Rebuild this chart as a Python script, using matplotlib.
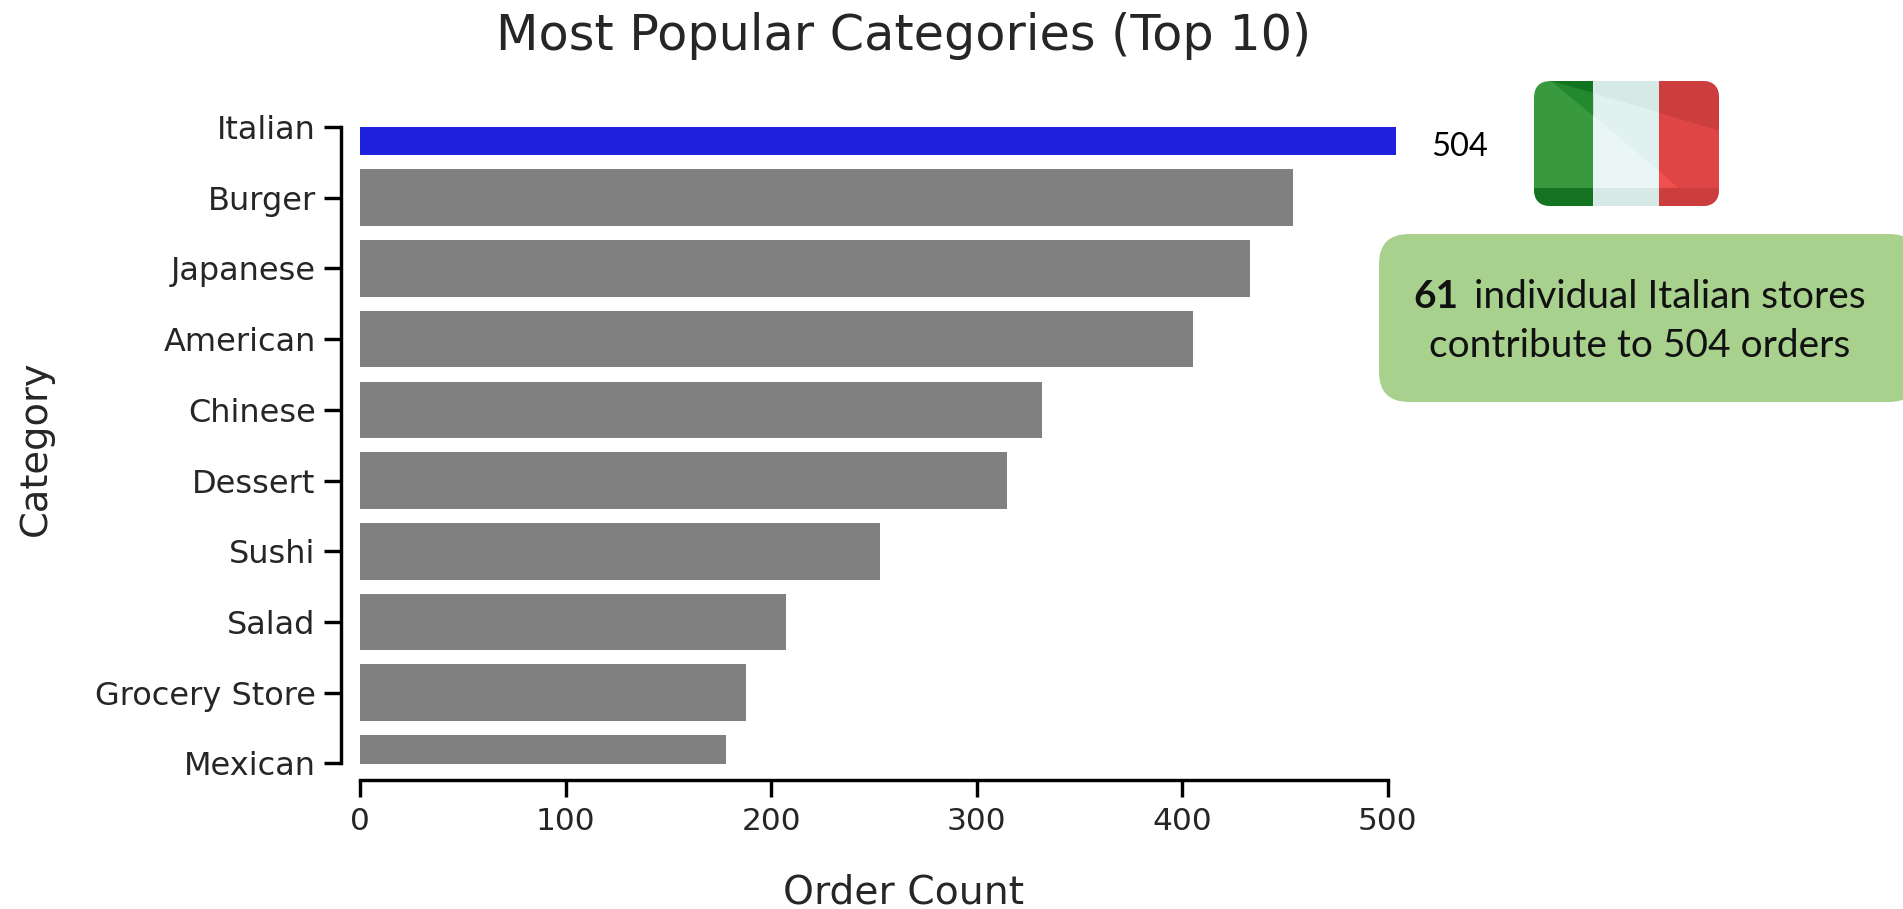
import matplotlib
matplotlib.use("Agg")
import matplotlib.pyplot as plt
from matplotlib.patches import FancyBboxPatch, Polygon

categories = ["Italian", "Burger", "Japanese", "American", "Chinese",
              "Dessert", "Sushi", "Salad", "Grocery Store", "Mexican"]
order_counts = [504, 454, 433, 405, 332, 315, 253, 207, 188, 178]
x_ticks = [0, 100, 200, 300, 400, 500]
bar_colors = ["#2020DF"] + ["#808080"] * 9

W, H = 1903, 909
PX = 72 / 100  # pixels to points at dpi 100
TEXT = "#262626"


def flag(ov):
    # rounded clip for the whole flag
    clip = FancyBboxPatch((1534, 81), 185, 125, boxstyle="round,pad=0,rounding_size=17",
                          fc="none", ec="none")
    ov.add_patch(clip)
    shapes = [
        # stripes
        ([(1534, 81), (1593.4, 81), (1593.4, 206), (1534, 206)], "#38993F"),
        ([(1593.4, 81), (1659, 81), (1659, 206), (1593.4, 206)], "#E9F6F5"),
        ([(1659, 81), (1719, 81), (1719, 206), (1659, 206)], "#E04545"),
        # middle facets
        ([(1551, 81), (1593.4, 93.3), (1593.4, 115.7)], "#23892F"),
        ([(1593.4, 93.3), (1659, 112.7), (1659, 170.7), (1593.4, 115.7)], "#E1F1EF"),
        # top facets
        ([(1551, 81), (1593.4, 81), (1593.4, 93.3)], "#147320"),
        ([(1593.4, 81), (1659, 81), (1659, 112.7), (1593.4, 93.3)], "#D6E9E6"),
        ([(1659, 81), (1719, 81), (1719, 130.7), (1659, 112.7)], "#CC3E3E"),
        # small light triangle in the red stripe
        ([(1659, 170.7), (1678, 187.7), (1659, 187.7)], "#F25050"),
        # bottom band
        ([(1534, 187.7), (1593.4, 187.7), (1593.4, 206), (1534, 206)], "#147320"),
        ([(1593.4, 187.7), (1659, 187.7), (1659, 206), (1593.4, 206)], "#D6E9E6"),
        ([(1659, 187.7), (1719, 187.7), (1719, 206), (1659, 206)], "#CC3E3E"),
    ]
    for pts, col in shapes:
        p = Polygon(pts, closed=True, fc=col, ec="none")
        ov.add_patch(p)
        p.set_clip_path(clip)


fig = plt.figure(figsize=(W / 100, H / 100), dpi=100)

ax = fig.add_axes([360 / W, 1 - 763.5 / H, (1396 - 360) / W, (763.5 - 127) / H])
ax.barh(range(len(categories)), order_counts, height=0.8, color=bar_colors)
ax.set_xlim(0, 504)
ax.set_ylim(9, 0)
ax.set_yticks(range(len(categories)))
ax.set_yticklabels(categories)
ax.set_xticks(x_ticks)

# despined look, offset axes
ax.spines["top"].set_visible(False)
ax.spines["right"].set_visible(False)
ax.spines["left"].set_position(("outward", 19 * PX))
ax.spines["bottom"].set_position(("outward", 16.5 * PX))
ax.spines["left"].set_linewidth(3.4 * PX)
ax.spines["bottom"].set_linewidth(3.4 * PX)
ax.spines["bottom"].set_bounds(0, 500)
ax.tick_params(axis="both", length=17 * PX, width=3.4 * PX, labelcolor=TEXT)
ax.tick_params(axis="y", pad=6, labelsize=23)
ax.tick_params(axis="x", pad=7, labelsize=22.5)

# everything outside the plot goes on a pixel overlay
ov = fig.add_axes([0, 0, 1, 1], zorder=5)
ov.set_xlim(0, W)
ov.set_ylim(H, 0)
ov.axis("off")

ov.text(904, 36, "Most Popular Categories (Top 10)", fontsize=35.5, color=TEXT, ha="center", va="center")
ov.text(904, 892, "Order Count", fontsize=28.3, color=TEXT, ha="center", va="center")
ov.text(36, 448, "Category", fontsize=27.7, color=TEXT, rotation=90, ha="center", va="center")

ov.text(1459.5, 147, "504", fontsize=23.5, family="Lato", color="black", ha="center", va="center")

flag(ov)

ov.add_patch(FancyBboxPatch((1379, 234), 540, 168, boxstyle="round,pad=0,rounding_size=30",
                            fc="#A9D18E", ec="none"))
ov.text(1458, 297, "61", fontsize=28, family="Lato", weight="bold", color="#111111", ha="right", va="center")
ov.text(1473.5, 297, "individual Italian stores", fontsize=28, family="Lato", color="#111111", ha="left", va="center")
ov.text(1640, 346, "contribute to 504 orders", fontsize=28, family="Lato", color="#111111", ha="center", va="center")

fig.savefig("out.png", dpi=100)
